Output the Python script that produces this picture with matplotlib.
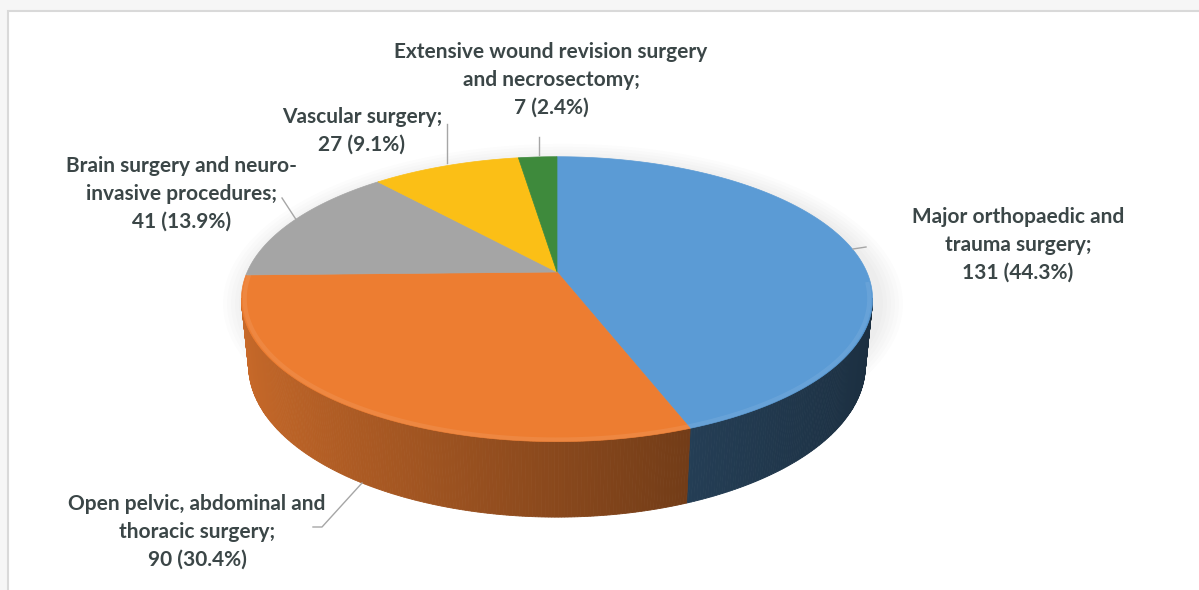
import numpy as np
import matplotlib.pyplot as plt
from matplotlib.patches import Polygon, Rectangle, Ellipse
from matplotlib.colors import to_rgb

plt.rcParams['font.family'] = ['Lato', 'DejaVu Sans']

# data (Excel order: starts at 12 o'clock, clockwise)
names = ['Major orthopaedic and\ntrauma surgery;',
         'Open pelvic, abdominal and\nthoracic surgery;',
         'Brain surgery and neuro-\ninvasive procedures;',
         'Vascular surgery;',
         'Extensive wound revision surgery\nand necrosectomy;']
counts = [131, 90, 41, 27, 7]
colors = ['#5B9BD5', '#ED7D31', '#A5A5A5', '#FBBF16', '#3E8A3C']

# label centres and leader lines (pixels)
label_xy = [(1018, 245), (197, 532), (182, 194), (362, 131), (551, 80)]
leaders = [[(853, 249), (866, 247)],
           [(362, 483), (322, 527), (313, 527)],
           [(282, 198), (297, 221)],
           [(447, 124), (447, 163)],
           [(539, 137), (539, 155)]]

W, H = 1199, 590
cx, cy = 557, 272
elev = np.radians(26.3)
dist = 4.70
focal = 1456
thick = 0.24


def project(u, v, z):
    yc = z * np.cos(elev) - v * np.sin(elev)
    depth = dist - (v * np.cos(elev) + z * np.sin(elev))
    return cx + focal * u / depth, cy - focal * yc / depth


def shade(col, f):
    return tuple(np.clip(np.array(to_rgb(col)) * f, 0, 1))


fig = plt.figure(figsize=(W / 100, H / 100), dpi=100)
fig.patch.set_facecolor('#F6F6F6')
ax = fig.add_axes([0, 0, 1, 1])
ax.set_xlim(0, W)
ax.set_ylim(H, 0)
ax.axis('off')
ax.add_patch(Rectangle((8, 11), W, H, fc='white', ec='#D9D9D9', lw=1.5, zorder=0))

total = sum(counts)
bounds = np.concatenate([[0], np.cumsum(counts) / total * 360])

# soft shadow under the pie
sx, sy = project(0, 0.15, -thick)
for k in range(6):
    ax.add_patch(Ellipse((sx + 6, sy - 60 + 4), 640 + 8 * k, 290 + 6 * k,
                         fc='#000000', alpha=0.012, lw=0, zorder=1))

# side wall, only the part facing the camera
vmin = 1 / (dist * np.cos(elev))
for i in range(len(counts)):
    a, b = bounds[i], bounds[i + 1]
    th = np.radians(np.arange(a, b + 0.01, 0.5))
    if th[-1] < np.radians(b):
        th = np.append(th, np.radians(b))
    for t0, t1 in zip(th[:-1], th[1:]):
        u0, v0 = np.sin(t0), -np.cos(t0)
        u1, v1 = np.sin(t1), -np.cos(t1)
        if max(v0, v1) < vmin - 0.05:
            continue
        um = (u0 + u1) / 2
        if i == 0:
            f = 0.40 - 0.16 * (um - 0.35)
        else:
            f = 0.84 - 0.27 * (um + 0.97)
        p = [project(u0, v0, 0), project(u1, v1, 0),
             project(u1, v1, -thick), project(u0, v0, -thick)]
        ax.add_patch(Polygon(p, closed=True, fc=shade(colors[i], f),
                             ec=shade(colors[i], f), lw=0.6, zorder=2))

# top face
apex = project(0, 0, 0)
for i in range(len(counts)):
    th = np.radians(np.linspace(bounds[i], bounds[i + 1], 200))
    xs, ys = project(np.sin(th), -np.cos(th), 0 * th)
    p = [apex] + list(zip(xs, ys))
    ax.add_patch(Polygon(p, closed=True, fc=colors[i], ec=colors[i], lw=0.5, zorder=3))

# faint bevel on the front edge
th = np.radians(np.linspace(95, 268, 200))
xs, ys = project(0.99 * np.sin(th), -0.99 * np.cos(th), 0 * th)
ax.plot(xs, ys, color='white', alpha=0.08, lw=3, zorder=4)

# labels
for i in range(len(counts)):
    pct = 100 * counts[i] / total
    txt = f'{names[i]}\n{counts[i]} ({pct:.1f}%)'
    ax.text(label_xy[i][0], label_xy[i][1], txt, ha='center', va='center',
            multialignment='center', fontsize=15, fontweight='bold',
            color='#3B4647', linespacing=1.48, zorder=5)
    lx, ly = zip(*leaders[i])
    ax.plot(lx, ly, color='#A6A6A6', lw=1, zorder=5)

fig.savefig('out.png', dpi=100, facecolor=fig.get_facecolor())
